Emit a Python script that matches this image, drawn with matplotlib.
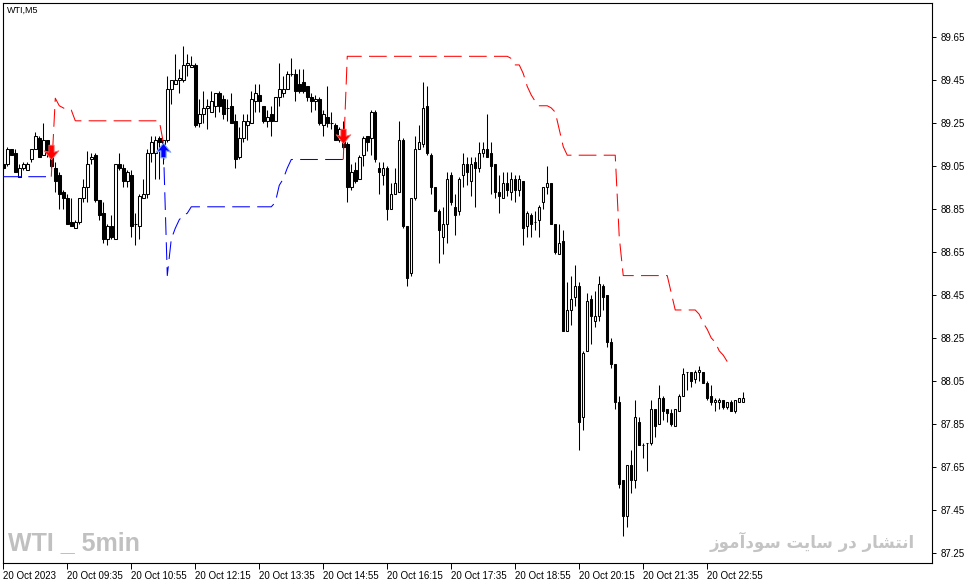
import numpy as np
import matplotlib
matplotlib.use("Agg")
import matplotlib.pyplot as plt
from matplotlib.path import Path

plt.rcParams['font.family'] = ['Liberation Sans', 'DejaVu Sans']

nan = float("nan")

# WTI, 5 minute bars, 20 Oct 2023 from 08:15
opens = [89.06, 89.06, 89.13, 89.11, 89.00, 89.04, 89.03, 89.08, 89.13, 89.18,
         89.10, 89.17, 89.13, 89.04, 89.01, 88.93, 88.90, 88.79, 88.76, 88.79,
         88.90, 88.95, 89.08, 89.10, 88.89, 88.83, 88.71, 88.77, 88.71, 89.06,
         89.04, 88.98, 89.01, 88.78, 88.77, 88.90, 88.92, 89.11, 89.11, 89.18,
         89.15, 89.17, 89.41, 89.43, 89.45, 89.45, 89.52, 89.51, 89.52, 89.25,
         89.29, 89.32, 89.30, 89.33, 89.39, 89.36, 89.32, 89.33, 89.26, 89.09,
         89.18, 89.24, 89.25, 89.35, 89.38, 89.33, 89.26, 89.29, 89.26, 89.37,
         89.39, 89.41, 89.48, 89.48, 89.43, 89.44, 89.42, 89.37, 89.35, 89.36,
         89.24, 89.28, 89.25, 89.24, 89.17, 89.21, 89.15, 88.95, 89.03, 88.99,
         89.10, 89.19, 89.18, 89.30, 89.04, 89.01, 89.04, 88.85, 88.92, 88.93,
         89.17, 88.77, 88.55, 88.90, 89.13, 89.15, 89.33, 89.10, 88.95, 88.84,
         88.72, 88.78, 89.01, 88.86, 88.84, 89.01, 89.06, 88.98, 89.07, 89.04,
         89.11, 89.13, 89.11, 89.06, 88.93, 88.90, 88.97, 88.93, 88.99, 88.94,
         88.98, 88.77, 88.82, 88.79, 88.80, 88.88, 88.95, 88.97, 88.78, 88.64,
         88.70, 88.28, 88.38, 88.44, 88.49, 87.88, 88.19, 88.43, 88.33, 88.35,
         88.49, 88.45, 88.23, 88.13, 87.95, 87.59, 87.42, 87.66, 87.59, 87.86,
         87.75, 87.76, 87.76, 87.92, 87.85, 87.97, 87.92, 87.90, 87.84, 87.91,
         87.98, 88.09, 88.09, 88.06, 88.09, 88.09, 88.04, 87.98, 87.95, 87.95,
         87.96, 87.93, 87.95, 87.91, 87.95, 87.95]
highs = [89.07, 89.14, 89.13, 89.13, 89.06, 89.07, 89.07, 89.13, 89.21, 89.19,
         89.25, 89.17, 89.13, 89.07, 89.02, 88.94, 88.92, 88.90, 88.80, 88.90,
         88.99, 89.12, 89.11, 89.11, 88.89, 88.88, 88.78, 88.82, 89.06, 89.11,
         89.06, 89.03, 89.03, 88.83, 88.92, 88.99, 89.13, 89.19, 89.19, 89.19,
         89.17, 89.47, 89.45, 89.57, 89.50, 89.61, 89.57, 89.56, 89.53, 89.36,
         89.40, 89.36, 89.40, 89.39, 89.40, 89.38, 89.36, 89.39, 89.29, 89.23,
         89.29, 89.29, 89.40, 89.43, 89.43, 89.33, 89.31, 89.33, 89.37, 89.53,
         89.47, 89.49, 89.55, 89.50, 89.50, 89.50, 89.42, 89.39, 89.38, 89.37,
         89.31, 89.42, 89.30, 89.25, 89.23, 89.26, 89.16, 89.06, 89.07, 89.10,
         89.19, 89.19, 89.31, 89.31, 89.07, 89.07, 89.05, 88.97, 89.04, 89.26,
         89.18, 88.77, 88.90, 89.19, 89.24, 89.44, 89.42, 89.11, 88.95, 88.85,
         88.86, 89.02, 89.02, 88.92, 89.00, 89.11, 89.09, 89.09, 89.09, 89.16,
         89.16, 89.29, 89.16, 89.06, 89.01, 89.02, 89.02, 89.02, 89.01, 89.01,
         88.98, 88.84, 88.83, 88.84, 88.87, 88.95, 89.05, 88.97, 88.78, 88.78,
         88.75, 88.51, 88.54, 88.59, 88.51, 88.19, 88.46, 88.45, 88.47, 88.54,
         88.50, 88.45, 88.25, 88.13, 87.98, 87.59, 87.66, 87.73, 87.96, 87.88,
         87.76, 87.76, 87.96, 87.92, 88.03, 87.98, 87.92, 87.92, 87.92, 87.99,
         88.11, 88.09, 88.09, 88.10, 88.12, 88.09, 88.05, 88.03, 87.97, 87.97,
         87.96, 87.95, 87.96, 87.96, 87.97, 88.00]
lows = [89.03, 89.05, 89.10, 89.02, 89.00, 89.03, 89.03, 89.07, 89.13, 89.09,
        89.10, 89.09, 89.04, 88.93, 88.85, 88.85, 88.78, 88.77, 88.76, 88.78,
        88.88, 88.88, 89.06, 88.88, 88.80, 88.69, 88.68, 88.71, 88.71, 89.03,
        88.95, 88.95, 88.72, 88.68, 88.71, 88.90, 88.90, 89.07, 88.99, 88.99,
        89.06, 89.16, 89.34, 89.43, 89.39, 89.44, 89.47, 89.51, 89.23, 89.23,
        89.25, 89.22, 89.30, 89.28, 89.30, 89.27, 89.26, 89.25, 89.04, 89.08,
        89.16, 89.17, 89.25, 89.30, 89.30, 89.25, 89.23, 89.19, 89.26, 89.33,
        89.37, 89.41, 89.47, 89.35, 89.39, 89.39, 89.35, 89.30, 89.31, 89.24,
        89.19, 89.23, 89.22, 89.17, 89.16, 89.13, 88.88, 88.94, 88.97, 88.99,
        89.05, 89.12, 89.10, 89.07, 88.92, 88.96, 88.80, 88.85, 88.92, 88.93,
        88.76, 88.49, 88.54, 88.89, 89.13, 89.14, 89.10, 88.92, 88.84, 88.60,
        88.64, 88.69, 88.87, 88.73, 88.82, 88.95, 88.96, 88.91, 88.86, 89.02,
        89.09, 89.09, 88.92, 88.90, 88.83, 88.90, 88.91, 88.89, 88.88, 88.91,
        88.68, 88.72, 88.72, 88.75, 88.72, 88.85, 88.92, 88.78, 88.64, 88.64,
        88.28, 88.28, 88.31, 88.40, 87.73, 87.82, 88.19, 88.22, 88.30, 88.33,
        88.38, 88.21, 88.11, 87.92, 87.55, 87.33, 87.37, 87.53, 87.55, 87.75,
        87.69, 87.63, 87.75, 87.79, 87.85, 87.87, 87.86, 87.84, 87.84, 87.91,
        87.98, 88.01, 88.02, 88.04, 88.05, 88.04, 87.96, 87.94, 87.91, 87.92,
        87.92, 87.92, 87.91, 87.90, 87.95, 87.95]
closes = [89.04, 89.13, 89.10, 89.02, 89.04, 89.06, 89.06, 89.13, 89.19, 89.09,
          89.17, 89.11, 89.05, 88.98, 88.92, 88.90, 88.78, 88.77, 88.79, 88.90,
          88.95, 89.06, 89.09, 88.89, 88.82, 88.71, 88.77, 88.72, 89.06, 89.04,
          88.98, 89.02, 88.77, 88.78, 88.91, 88.92, 89.11, 89.16, 89.17, 89.16,
          89.17, 89.41, 89.45, 89.45, 89.46, 89.52, 89.53, 89.52, 89.24, 89.29,
          89.32, 89.33, 89.35, 89.39, 89.33, 89.29, 89.32, 89.25, 89.08, 89.18,
          89.26, 89.26, 89.36, 89.39, 89.35, 89.26, 89.28, 89.26, 89.37, 89.41,
          89.41, 89.48, 89.48, 89.40, 89.40, 89.40, 89.37, 89.35, 89.36, 89.25,
          89.29, 89.25, 89.25, 89.17, 89.22, 89.14, 88.95, 89.02, 88.98, 89.09,
          89.18, 89.16, 89.30, 89.08, 89.02, 89.04, 88.85, 88.92, 88.97, 89.17,
          88.77, 88.53, 88.90, 89.13, 89.16, 89.32, 89.11, 88.95, 88.84, 88.75,
          88.78, 88.99, 88.88, 88.82, 88.99, 89.06, 89.02, 89.06, 89.04, 89.11,
          89.13, 89.09, 89.05, 88.93, 88.91, 88.97, 88.94, 88.99, 88.94, 88.99,
          88.76, 88.83, 88.78, 88.79, 88.86, 88.95, 88.97, 88.78, 88.65, 88.69,
          88.28, 88.38, 88.43, 88.49, 87.86, 88.18, 88.42, 88.35, 88.35, 88.50,
          88.44, 88.23, 88.13, 87.95, 87.57, 87.42, 87.66, 87.59, 87.88, 87.75,
          87.75, 87.76, 87.92, 87.84, 87.97, 87.91, 87.90, 87.85, 87.92, 87.98,
          88.08, 88.09, 88.05, 88.09, 88.10, 88.04, 87.97, 87.95, 87.96, 87.96,
          87.93, 87.95, 87.91, 87.96, 87.97, 87.97]

# trailing lines of the signal indicator (bar index, price), nan breaks a segment
red_bars = [12, 13, 14, 15, 16, 17, 18, 39, 40, nan,
            85, 86, 126, 127, 128, 129, 130, 131, 132, 133, 134, 136, 137, 138,
            139, 140, 141, 153, 154, 155, 166, 167, 168, 173, 174, 175, 176,
            177, 178, 179, 180, 181]
red_vals = [89.00, 89.365, 89.33, 89.32, 89.31, 89.31, 89.26, 89.26, 89.16, nan,
            89.08, 89.56, 89.56, 89.55, 89.52, 89.52, 89.48, 89.42, 89.38, 89.35,
            89.33, 89.33, 89.32, 89.30, 89.22, 89.14, 89.10, 89.10, 88.72, 88.54,
            88.54, 88.46, 88.38, 88.38, 88.36, 88.32, 88.29, 88.25, 88.23, 88.19,
            88.17, 88.14]
blue_bars = [0, 11, nan, 40, 41, 42, 43, 44, 45, 46, 47, 67, 68, 69, 70, 71,
             72, 85]
blue_vals = [89.00, 89.00, nan, 89.16, 88.54, 88.71, 88.76, 88.80, 88.82,
             88.83, 88.86, 88.86, 88.88, 88.96, 88.99, 89.04, 89.08, 89.08]

sell_bars = [12, 85]
sell_prices = [89.115, 89.19]
buy_bars = [40]
buy_prices = [89.125]

y_ticks = [87.25, 87.45, 87.65, 87.85, 88.05, 88.25, 88.45, 88.65, 88.85,
           89.05, 89.25, 89.45, 89.65]
x_tick_bars = [0, 16, 32, 48, 64, 80, 96, 112, 128, 144, 160, 176]
x_tick_labels = ["20 Oct 2023", "20 Oct 09:35", "20 Oct 10:55", "20 Oct 12:15",
                 "20 Oct 13:35", "20 Oct 14:55", "20 Oct 16:15", "20 Oct 17:35",
                 "20 Oct 18:55", "20 Oct 20:15", "20 Oct 21:35", "20 Oct 22:55"]

W, H = 972, 584
fig = plt.figure(figsize=(W / 100, H / 100), dpi=100)
ax = fig.add_axes([3 / W, 21 / H, 929 / W, 560 / H])

x = np.arange(len(opens))
o = np.array(opens)
c = np.array(closes)
up = c >= o
bottom = np.minimum(o, c)
height = np.abs(c - o)

ax.vlines(x, lows, highs, color="black", lw=0.75, zorder=2)
ax.bar(x[up], height[up], bottom=bottom[up], width=0.62, facecolor="white",
       edgecolor="black", lw=0.75, zorder=3)
ax.bar(x[~up], height[~up], bottom=bottom[~up], width=0.62, facecolor="black",
       edgecolor="black", lw=0.75, zorder=3)

ax.plot(red_bars, red_vals, color="#ff0000", lw=0.75, ls=(0, (17, 7)), zorder=4)
ax.plot(blue_bars, blue_vals, color="#0000ff", lw=0.75, ls=(0, (17, 7)), zorder=4)

# thick arrows like the terminal's signal glyphs
down_arrow = Path([(-0.18, 0.5), (0.18, 0.5), (0.18, 0.02), (0.5, 0.12),
                   (0.0, -0.5), (-0.5, 0.12), (-0.18, 0.02), (-0.18, 0.5)],
                  [1, 2, 2, 2, 2, 2, 2, 79])
up_arrow = Path([(-0.18, -0.5), (0.18, -0.5), (0.18, -0.02), (0.5, -0.12),
                 (0.0, 0.5), (-0.5, -0.12), (-0.18, -0.02), (-0.18, -0.5)],
                [1, 2, 2, 2, 2, 2, 2, 79])
ax.plot(sell_bars, sell_prices, ls="none", marker=down_arrow, ms=10.5,
        mfc="#ff0000", mec="#ff6060", mew=0.6, zorder=6)
ax.plot(buy_bars, buy_prices, ls="none", marker=up_arrow, ms=10.5,
        mfc="#0000ff", mec="#7fa8ff", mew=0.8, zorder=6)

ax.set_xlim(-0.075, 232.2)
ax.set_ylim(87.203, 89.808)

ax.yaxis.tick_right()
ax.set_yticks(y_ticks)
ax.set_yticklabels([f"{v:.2f}" for v in y_ticks])
ax.set_xticks(x_tick_bars)
ax.set_xticklabels(x_tick_labels)
for lbl in ax.get_xticklabels():
    lbl.set_horizontalalignment("left")
ax.tick_params(axis="y", direction="out", length=3, width=0.7, labelsize=7,
               pad=3, colors="black")
ax.tick_params(axis="x", direction="out", length=4, width=0.7, labelsize=7,
               pad=2, colors="black")
for s in ax.spines.values():
    s.set_linewidth(0.8)
    s.set_color("black")

fig.text(7 / W, 1 - 10 / H, "WTI,M5", fontsize=6.5, ha="left", va="center")
fig.text(8 / W, 1 - 543 / H, "WTI _ 5min", fontsize=18, fontweight="bold",
         color="#c0c0c0", ha="left", va="center", family=["Liberation Sans"])

# "انتشار در سایت سودآموز" written in shaped presentation forms, visual order
wm_words = ["\ufeaf\ufeee\ufee3\ufe81\ufea9\ufeee\ufeb3",
            "\ufe96\ufef3\ufe8e\ufeb3",
            "\ufead\ufea9",
            "\ufead\ufe8e\ufeb8\ufe98\ufee7\ufe8d"]
fig.text(915 / W, 1 - 542 / H, " ".join(wm_words), fontsize=12,
         fontweight="bold", color="#c4c4c4", ha="right", va="center",
         family=["DejaVu Sans"])

fig.savefig("out.png", dpi=100)
